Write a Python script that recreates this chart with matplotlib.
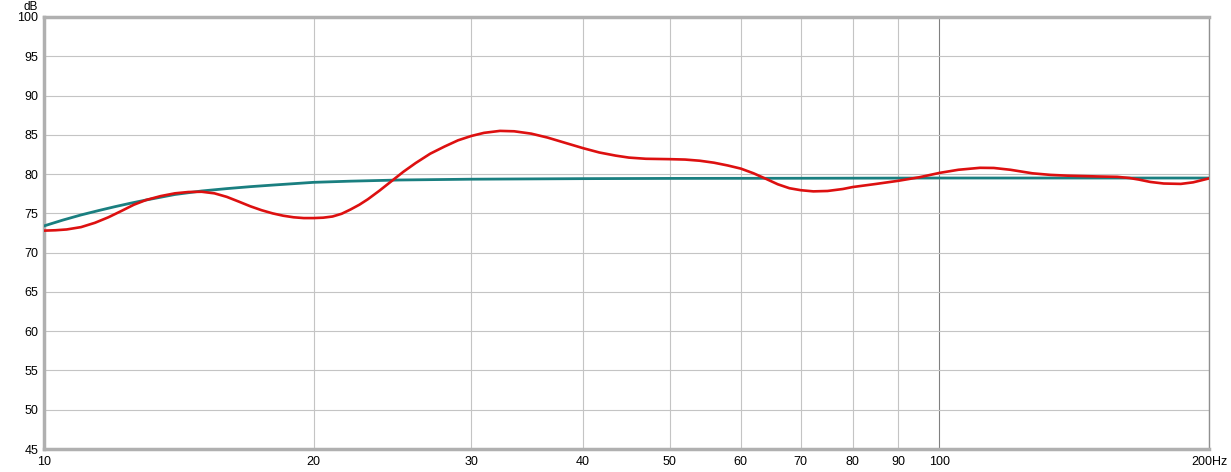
import matplotlib
matplotlib.use("Agg")
import matplotlib.pyplot as plt
from matplotlib.ticker import FixedLocator, NullLocator

plt.rcParams['font.family'] = ['Liberation Sans', 'DejaVu Sans']

# measured response (red)
meas_f = [10, 10.3, 10.6, 11, 11.4, 11.8, 12.2, 12.6, 13, 13.5, 14, 14.5, 15, 15.5,
          16, 16.5, 17, 17.5, 18, 18.5, 19, 19.5, 20, 20.5, 21, 21.5, 22, 22.5, 23,
          23.7, 24.5, 25.2, 26, 27, 28, 29, 30, 31, 32.3, 33.5, 35, 36.5, 38.4, 40,
          41.7, 43.5, 45, 47, 50, 52, 54, 56, 58, 60, 62, 64, 66, 68, 70, 72.3, 75,
          78, 80, 85, 90, 95, 100, 105, 111, 115, 120, 127, 133, 139, 150, 158, 163,
          167, 172, 178, 186, 192, 196, 200]
meas_db = [72.8, 72.85, 72.95, 73.25, 73.8, 74.5, 75.3, 76.1, 76.7, 77.2, 77.55,
           77.72, 77.75, 77.55, 77.1, 76.5, 75.9, 75.4, 75.0, 74.7, 74.5, 74.4, 74.4,
           74.45, 74.6, 74.95, 75.5, 76.1, 76.8, 77.9, 79.2, 80.3, 81.4, 82.6, 83.5,
           84.3, 84.85, 85.25, 85.5, 85.45, 85.15, 84.65, 83.9, 83.3, 82.75, 82.35,
           82.1, 81.95, 81.9, 81.85, 81.7, 81.45, 81.1, 80.7, 80.1, 79.4, 78.7, 78.2,
           77.95, 77.8, 77.85, 78.1, 78.35, 78.75, 79.15, 79.6, 80.15, 80.55, 80.8,
           80.78, 80.55, 80.1, 79.9, 79.8, 79.7, 79.65, 79.5, 79.3, 79.0, 78.8, 78.75,
           78.95, 79.2, 79.45]

# target curve (teal)
target_f = [10, 10.5, 11, 11.5, 12, 12.5, 13, 14, 15, 16, 17, 18, 20, 22, 25, 30,
            40, 50, 70, 100, 200]
target_db = [73.4, 74.15, 74.8, 75.35, 75.85, 76.3, 76.7, 77.4, 77.85, 78.15, 78.4,
             78.6, 78.95, 79.1, 79.25, 79.35, 79.42, 79.45, 79.47, 79.5, 79.5]

xticks = [10, 20, 30, 40, 50, 60, 70, 80, 90, 100, 200]
xlabels = ["10", "20", "30", "40", "50", "60", "70", "80", "90", "100", "200Hz"]
yticks = list(range(45, 101, 5))

fig = plt.figure(figsize=(12.31, 4.72), dpi=100)
ax = fig.add_axes([44/1231, 23/472, 1165/1231, 432/472])

ax.set_xscale("log")
ax.set_xlim(10, 200)
ax.set_ylim(45, 100)

# grid
for f in xticks[1:]:
    ax.axvline(f, color="#808080" if f == 100 else "#c4c4c4", lw=0.8, zorder=1)
for y in yticks[1:-1]:
    ax.axhline(y, color="#c4c4c4", lw=0.8, zorder=1)

ax.plot(target_f, target_db, color="#1a7f80", lw=2.0, zorder=3)
ax.plot(meas_f, meas_db, color="#dd1010", lw=1.9, zorder=4)

ax.xaxis.set_major_locator(FixedLocator(xticks))
ax.xaxis.set_minor_locator(NullLocator())
ax.set_xticklabels(xlabels)
ax.set_yticks(yticks)
ax.tick_params(length=0, labelsize=9, colors="#000000")
ax.tick_params(axis="x", pad=5)
ax.tick_params(axis="y", pad=4)

for s in ("left", "bottom", "top"):
    ax.spines[s].set_color("#b0b0b0")
    ax.spines[s].set_linewidth(2.5)
ax.spines["right"].set_color("#909090")
ax.spines["right"].set_linewidth(1.0)

fig.text(38/1231, 1 - 10/472, "dB", ha="right", va="baseline", fontsize=8.5)

fig.savefig("out.png", dpi=100)
